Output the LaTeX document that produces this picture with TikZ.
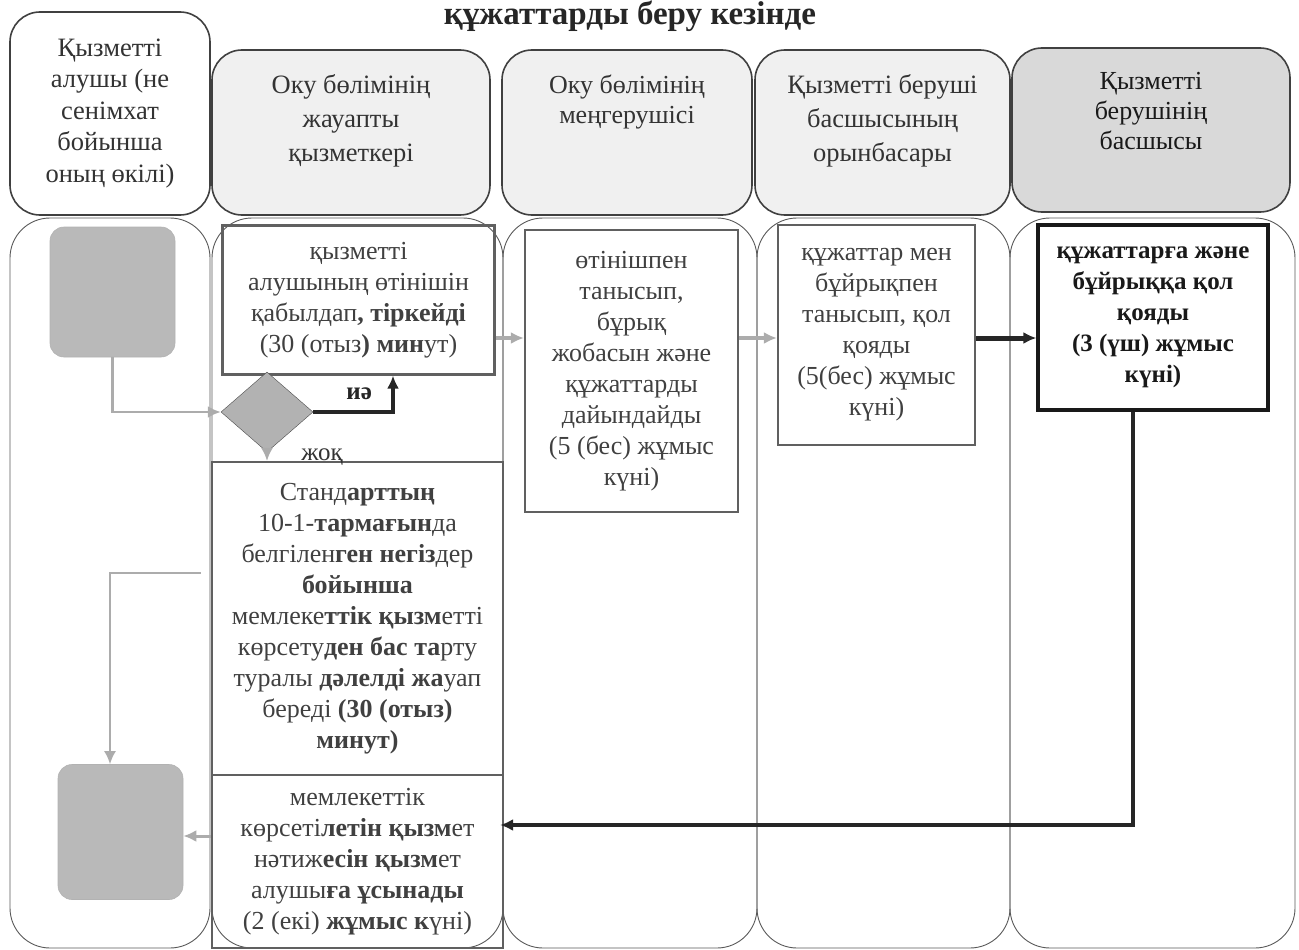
\documentclass[tikz,border=0pt]{standalone}
\usepackage{fontspec}
\setmainfont{Liberation Serif}
\usetikzlibrary{arrows.meta,shapes.geometric}

\tikzset{
  lane/.style={draw=black!65, rounded corners=40pt, line width=0.9pt},
  hdr/.style={draw=black!75, rounded corners=30pt, line width=1.6pt, fill=gray!12},
  hdrtext/.style={font=\fontsize{26.5}{34}\selectfont, text=black!80, align=center},
  txt/.style={font=\fontsize{26}{31}\selectfont, text=black!75, align=center},
  stepbox/.style={draw=gray!75!black, line width=2.2pt, inner sep=0pt, txt},
  term/.style={draw=gray!60, fill=gray!55, rounded corners=14pt, line width=0.6pt},
  decision/.style={diamond, draw=gray!60!black, fill=gray!60, inner sep=0pt},
  flow/.style={-{Latex[length=13pt,width=12pt]}, draw=gray!65, line width=2.5pt},
  flowbold/.style={-{Latex[length=13pt,width=12pt]}, draw=black!85, line width=4pt}
}

\begin{document}
\begin{tikzpicture}[x=1pt,y=-1pt]
        \useasboundingbox (0,0) rectangle (1299,950);

        % title
        \node[font=\bfseries\fontsize{33}{36}\selectfont, text=black!85, anchor=north, inner sep=0pt] (title) at (630,1) {құжаттарды беру кезінде};

        % lanes
        \node[lane, minimum width=200pt, minimum height=730pt] (lane1) at (110,583) {};
        \node[lane, minimum width=291pt, minimum height=730pt] (lane2) at (357.5,583) {};
        \node[lane, minimum width=254pt, minimum height=730pt] (lane3) at (630,583) {};
        \node[lane, minimum width=253pt, minimum height=730pt] (lane4) at (883.5,583) {};
        \node[lane, minimum width=285pt, minimum height=730pt] (lane5) at (1152.5,583) {};

        % headers
        \node[hdr, fill=white, minimum width=200pt, minimum height=203pt, hdrtext,
              font=\fontsize{26.5}{31.5}\selectfont] (h1) at (110,113.5)
              {Қызметті\\ алушы (не\\ сенімхат\\ бойынша\\ оның өкілі)};
        \node[hdr, minimum width=278pt, minimum height=165pt,
              label={[hdrtext, anchor=north, yshift=-22pt]north:{Оку бөлімінің\\ жауапты\\ қызметкері}}] (h2) at (351,132.5) {};
        \node[hdr, minimum width=250pt, minimum height=165pt,
              label={[hdrtext, anchor=north, yshift=-22pt, font=\fontsize{26}{30}\selectfont]north:{Оку бөлімінің\\ меңгерушісі}}] (h3) at (627,132.5) {};
        \node[hdr, minimum width=255pt, minimum height=165pt,
              label={[hdrtext, anchor=north, yshift=-22pt]north:{Қызметті беруші\\ басшысының\\ орынбасары}}] (h4) at (882.5,132.5) {};
        \node[hdr, fill=gray!30, minimum width=278pt, minimum height=164pt,
              label={[hdrtext, anchor=north, yshift=-22pt, font=\fontsize{26}{30}\selectfont, text=black!90]north:{Қызметті\\ берушінің\\ басшысы}}] (h5) at (1151,130) {};

        % start and end
        \node[term, minimum width=125pt, minimum height=130pt] (start) at (112.5,292) {};
        \node[term, minimum width=125pt, minimum height=135pt] (finish) at (120.5,832) {};

        % steps
        \node[stepbox, minimum width=272pt, minimum height=149pt] (accept) at (358.5,300)
              {қызметті\\ алушының өтінішін\\ қабылдап\textbf{, тіркейді}\\ (30 (отыз\textbf{) мин}ут)};
        \node[decision, minimum width=92pt, minimum height=80pt] (check) at (267,412) {};
        \node[stepbox, minimum width=291pt, minimum height=313pt] (refuse) at (357.5,618.5)
              {Станд\textbf{арттың}\\ 10-1-\textbf{тармағын}да\\ белгілен\textbf{ген негіз}дер\\ \textbf{бойынша}\\
               мемлеке\textbf{ттік қызм}етті\\ көрсету\textbf{ден бас та}рту\\ туралы \textbf{дәлелді жа}уап\\
               береді \textbf{(30 (отыз)}\\ \textbf{минут)}};
        \node[stepbox, minimum width=291pt, minimum height=173pt] (result) at (357.5,861.5)
              {мемлекеттік\\ көрсеті\textbf{летін қызм}ет\\ нәтиж\textbf{есін қызм}ет\\ алушы\textbf{ға ұсынады}\\ (2 (екі) \textbf{жұмыс к}үні)};
        \node[stepbox, minimum width=213pt, minimum height=282pt] (prepare) at (631.5,371)
              {өтінішпен\\ танысып,\\ бұрық\\ жобасын және\\ құжаттарды\\ дайындайды\\ (5 (бес) жұмыс\\ күні)};
        \node[stepbox, minimum width=197pt, minimum height=220pt] (deputy) at (876.5,335)
              {құжаттар мен\\ бұйрықпен\\ танысып, қол\\ қояды\\ (5(бес) жұмыс\\ күні)};
        \node[stepbox, draw=black!90, line width=3.2pt, minimum width=230pt, minimum height=185pt,
              font=\bfseries\fontsize{25}{31}\selectfont, text=black!90] (head) at (1153,317.5)
              {құжаттарға және\\ бұйрыққа қол\\ қояды\\ (3 (үш) жұмыс\\ күні)};

        \coordinate (yesturn) at (393,412);
        \coordinate (rejturn) at (110,573);
        \coordinate (rowtop) at (0,338);
        \coordinate (rowback) at (0,825);
        \coordinate (rowout) at (0,836);

        % connectors
        \draw[flow] (start.south) |- (check.west);
        \draw[flowbold, line width=3.5pt] (check.east) -- (yesturn) -- (accept.south -| yesturn)
              node[pos=0.5, left=16pt, font=\bfseries\fontsize{25}{28}\selectfont, text=black!85] (yes) {иә};
        \draw[flow, line width=2pt] (check.south) -- (refuse.north -| check.south)
              node[pos=0.5, right=30pt, font=\fontsize{25}{26}\selectfont, text=black!80] (no) {жоқ};
        \draw[flow, line width=2pt, shorten <=10pt] (refuse.west |- rejturn) -- (rejturn) -- (finish.north -| rejturn);
        \draw[flow, line width=3pt] (result.west |- rowout) -- (finish.east |- rowout);
        \draw[flow, line width=3.5pt] (accept.east |- rowtop) -- (prepare.west |- rowtop);
        \draw[flow, line width=4.5pt] (prepare.east |- rowtop) -- (deputy.west |- rowtop);
        \draw[flowbold, line width=5pt] (deputy.east |- rowtop) -- (head.west |- rowtop);
        \draw[flowbold, line width=3.5pt, shorten >=-4pt] ([xshift=-20pt]head.south) |- (result.east |- rowback);
\end{tikzpicture}
\end{document}
